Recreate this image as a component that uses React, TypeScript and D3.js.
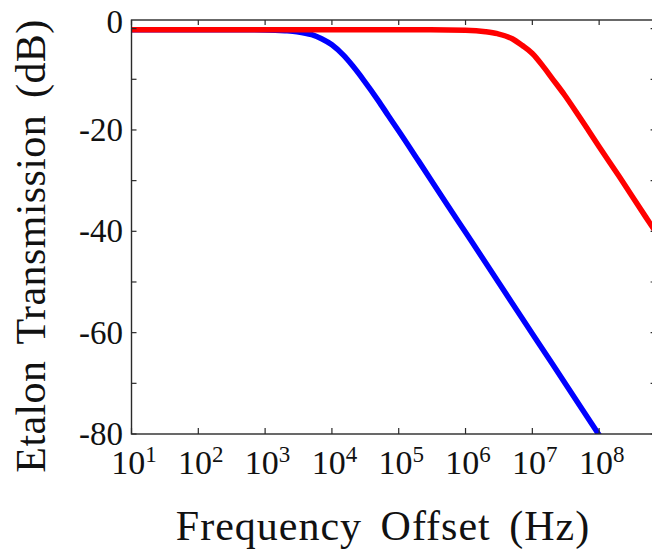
import React from "react";
import * as d3 from "d3";

// Frequency offset samples (Hz) and transmission (dB)
const blueFreq = [10, 100, 1e3, 2e3, 3e3, 5e3, 7e3, 1e4, 1.5e4, 2e4, 3e4, 5e4, 7e4, 1e5, 2e5, 5e5, 1e6, 2e6, 5e6, 1e7, 2e7, 5e7, 1e8, 1.2e8];
const blueDb = [-0.2, -0.2, -0.25, -0.4, -0.6, -1.2, -2.0, -3.2, -5.3, -7.2, -10.2, -14.3, -17.2, -20.2, -26.2, -34.2, -40.2, -46.2, -54.2, -60.2, -66.2, -74.2, -80.2, -81.8];

const redFreq = [10, 1e3, 1e5, 3e5, 1e6, 2e6, 3e6, 5e6, 7e6, 1e7, 1.5e7, 2e7, 3e7, 5e7, 7e7, 1e8, 2e8, 5e8, 7e8];
const redDb = [-0.2, -0.2, -0.2, -0.2, -0.3, -0.6, -1.0, -2.0, -3.3, -4.9, -7.7, -9.9, -13.0, -17.3, -20.2, -23.3, -29.2, -37.2, -40.1];

const xTickExps = [1, 2, 3, 4, 5, 6, 7, 8];
const yTickLabels = [0, -20, -40, -60, -80];
const yTicksAll = [0, -10, -20, -30, -40, -50, -60, -70, -80];

const xTitle = "Frequency Offset (Hz)";
const yTitle = "Etalon Transmission (dB)";

const W = 652;
const H = 551;
const L = 131.5;
const R = 655.6;
const T = 20;
const B = 434;

export default function App() {
  const x = d3.scaleLog().domain([10, 7e8]).range([L, R]);
  const y = d3.scaleLinear().domain([-80, 1.7]).range([B, T]);

  const line = d3
    .line<[number, number]>()
    .x((d) => x(d[0]))
    .y((d) => y(d[1]))
    .curve(d3.curveMonotoneX);

  const blue = line(blueFreq.map((f, i) => [f, blueDb[i]] as [number, number])) || "";
  const red = line(redFreq.map((f, i) => [f, redDb[i]] as [number, number])) || "";

  const font = "'Liberation Serif', 'Times New Roman', serif";
  const axisColor = "#2a2a2a";

  return (
    <svg
      width={W}
      height={H}
      style={{ position: "absolute", left: 0, top: 0, background: "#fff" }}
      fontFamily={font}
    >
      <defs>
        <clipPath id="plotClip">
          <rect x={L} y={T} width={R - L} height={B - T} />
        </clipPath>
      </defs>
      <rect x={0} y={0} width={W} height={H} fill="#fff" />
      <g clipPath="url(#plotClip)">
        <path d={blue} fill="none" stroke="#0000ff" strokeWidth={5.5} strokeLinejoin="round" />
        <path d={red} fill="none" stroke="#ff0000" strokeWidth={5.5} strokeLinejoin="round" />
      </g>
      {/* frame */}
      <rect x={L} y={T} width={R - L} height={B - T} fill="none" stroke={axisColor} strokeWidth={1.4} />
      {/* x ticks */}
      {xTickExps.map((e) => {
        const px = x(Math.pow(10, e));
        return (
          <g key={"xt" + e}>
            <line x1={px} x2={px} y1={B} y2={B - 6} stroke={axisColor} strokeWidth={1.2} />
            <line x1={px} x2={px} y1={T} y2={T + 5} stroke={axisColor} strokeWidth={1.2} />
            <text x={px + 2.5} y={474} textAnchor="middle" fontSize={34} fill="#111">
              10
              <tspan fontSize={23} dy={-12}>
                {e}
              </tspan>
            </text>
          </g>
        );
      })}
      {/* y ticks */}
      {yTicksAll.map((v) => {
        const py = y(v);
        return (
          <g key={"yt" + v}>
            <line x1={L} x2={L + 5} y1={py} y2={py} stroke={axisColor} strokeWidth={1.2} />
            <line x1={R} x2={R - 5} y1={py} y2={py} stroke={axisColor} strokeWidth={1.2} />
          </g>
        );
      })}
      {yTickLabels.map((v) => {
        const py = Math.min(y(v) + 11, v === 0 ? 33 : 1000);
        return (
          <text key={"yl" + v} x={123} y={py} textAnchor="end" fontSize={33} fill="#111">
            {v}
          </text>
        );
      })}
      <text
        x={383}
        y={540}
        textAnchor="middle"
        fontSize={42}
        letterSpacing={1}
        wordSpacing={7}
        fill="#111"
      >
        {xTitle}
      </text>
      <text
        transform={`translate(45, 246) rotate(-90)`}
        textAnchor="middle"
        fontSize={42}
        letterSpacing={0.4}
        wordSpacing={6}
        fill="#111"
      >
        {yTitle}
      </text>
    </svg>
  );
}
